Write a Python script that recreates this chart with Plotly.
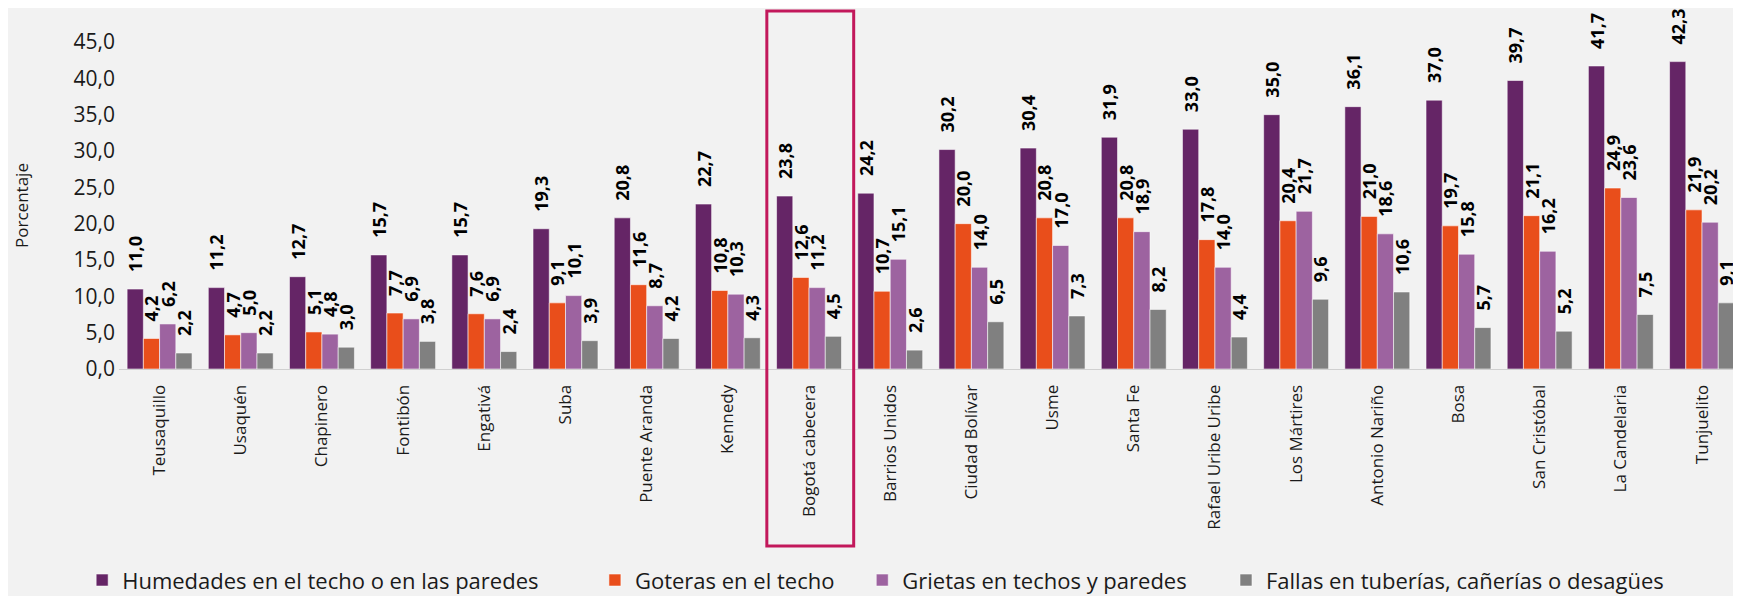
import plotly.graph_objects as go

categories = ["Teusaquillo", "Usaquén", "Chapinero", "Fontibón", "Engativá", "Suba",
              "Puente Aranda", "Kennedy", "Bogotá cabecera", "Barrios Unidos",
              "Ciudad Bolívar", "Usme", "Santa Fe", "Rafael Uribe Uribe", "Los Mártires",
              "Antonio Nariño", "Bosa", "San Cristóbal", "La Candelaria", "Tunjuelito"]

humedades = [11.0, 11.2, 12.7, 15.7, 15.7, 19.3, 20.8, 22.7, 23.8, 24.2,
             30.2, 30.4, 31.9, 33.0, 35.0, 36.1, 37.0, 39.7, 41.7, 42.3]
goteras = [4.2, 4.7, 5.1, 7.7, 7.6, 9.1, 11.6, 10.8, 12.6, 10.7,
           20.0, 20.8, 20.8, 17.8, 20.4, 21.0, 19.7, 21.1, 24.9, 21.9]
grietas = [6.2, 5.0, 4.8, 6.9, 6.9, 10.1, 8.7, 10.3, 11.2, 15.1,
           14.0, 17.0, 18.9, 14.0, 21.7, 18.6, 15.8, 16.2, 23.6, 20.2]
fallas = [2.2, 2.2, 3.0, 3.8, 2.4, 3.9, 4.2, 4.3, 4.5, 2.6,
          6.5, 7.3, 8.2, 4.4, 9.6, 10.6, 5.7, 5.2, 7.5, 9.1]

series_names = ["Humedades en el techo o en las paredes", "Goteras en el techo",
                "Grietas en techos y paredes", "Fallas en tuberías, cañerías o desagües"]
series_values = [humedades, goteras, grietas, fallas]
colors = ["#652566", "#E94E1B", "#9D63A0", "#808080"]

FONT = "Open Sans"
NB = "\u00a0"
LABEL_PAD = NB * 3
# trailing spacing after each legend entry (to mimic the reference spacing)
LEGEND_PAD = [NB * 9, NB * 4, NB * 6, ""]


def fmt(v):
    return LABEL_PAD + f"{v:.1f}".replace(".", ",")


fig = go.Figure()
for name, vals, col, lp in zip(series_names, series_values, colors, LEGEND_PAD):
    fig.add_trace(go.Bar(
        x=categories, y=vals, name=name + lp,
        marker=dict(color=col, line=dict(color="rgba(255,255,255,0.55)", width=1)),
        text=[fmt(v) for v in vals],
        textposition="outside", textangle=-90, constraintext="none",
        textfont=dict(family=FONT, size=18, color="#000000", weight="bold"),
        cliponaxis=False,
    ))

fig.add_shape(type="rect", xref="x", yref="paper",
              x0=7.48, x1=8.55, y0=-0.5415, y1=1.0947,
              line=dict(color="#C2185B", width=3), fillcolor="rgba(0,0,0,0)")

fig.update_layout(
    width=1733, height=588,
    paper_bgcolor="#F2F2F2", plot_bgcolor="#F2F2F2",
    margin=dict(l=111, r=0, t=34, b=227, autoexpand=False),
    barmode="group", bargap=0.2, bargroupgap=0,
    separators=",.",
    font=dict(family=FONT, color="#1a1a1a"),
    showlegend=True,
    legend=dict(orientation="h", x=0.4665, xanchor="center", y=-0.646, yanchor="middle",
                font=dict(family=FONT, size=22, color="#1a1a1a"),
                bgcolor="rgba(0,0,0,0)"),
    xaxis=dict(range=[-0.5, 19.48], tickangle=-90, showgrid=False, automargin=False,
               tickfont=dict(family=FONT, size=17, color="#1a1a1a"),
               showline=True, linecolor="#D0D0D0", linewidth=1, ticks="",
               ticklabelstandoff=8),
    yaxis=dict(range=[0, 45], dtick=5, tickformat=".1f", showgrid=False, zeroline=False,
               automargin=False,
               tickfont=dict(family=FONT, size=21, color="#1a1a1a"),
               ticklabelstandoff=3,
               title=dict(text="Porcentaje", font=dict(family=FONT, size=17, color="#1a1a1a"),
                          standoff=40)),
)

fig.write_html("out.html")
